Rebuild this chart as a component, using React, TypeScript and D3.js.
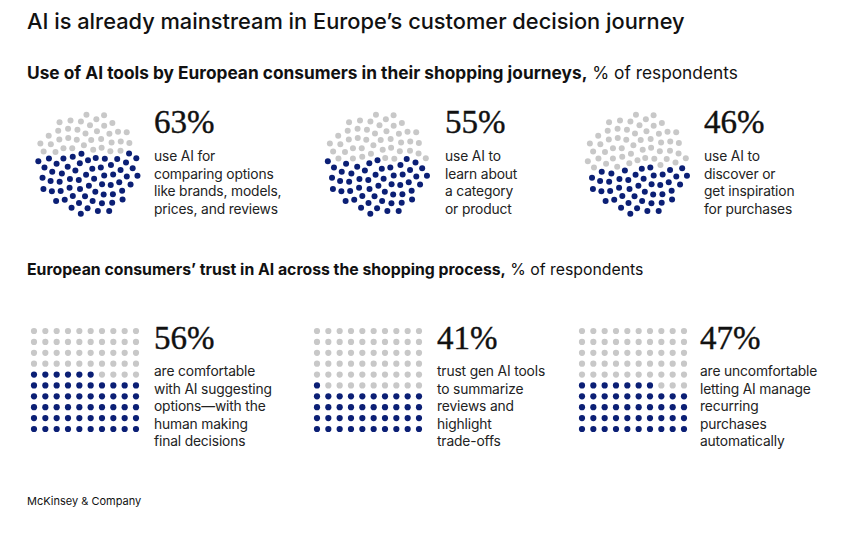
import * as d3 from 'd3';

const NAVY = '#0b1f75';
const GRAY = '#c8c8c8';
const INK = '#222';
const SANS = 'Inter, "Liberation Sans", Arial, sans-serif';
const SERIF = 'Liberation Serif';

// Section 1: circle charts
const circleValues = [63, 55, 46];
const circleLabels = [
  ['use AI for', 'comparing options', 'like brands, models,', 'prices, and reviews'],
  ['use AI to', 'learn about', 'a category', 'or product'],
  ['use AI to', 'discover or', 'get inspiration', 'for purchases'],
];

// Section 2: waffle grids
const gridValues = [56, 41, 47];
const gridLabels = [
  ['are comfortable', 'with AI suggesting', 'options\u2014with the', 'human making', 'final decisions'],
  ['trust gen AI tools', 'to summarize', 'reviews and', 'highlight', 'trade-offs'],
  ['are uncomfortable', 'letting AI manage', 'recurring', 'purchases', 'automatically'],
];

const TOTAL = 100;

// panel placement
const circleCenters = [88, 377.5, 637.5];
const circleCy = 164;
const circleTextX = [154, 445, 704];
const gridLeft = [34, 317, 582];
const gridTop = 331;
const gridTextX = [154, 437, 700];

const GOLDEN = Math.PI * (3 - Math.sqrt(5));

function sunflowerDots(value: number) {
  const rScale = d3.scaleSqrt().domain([0, TOTAL]).range([0, 52]);
  const pts = d3.range(TOTAL).map((i) => {
    const r = rScale(i + 0.5);
    const a = i * GOLDEN - Math.PI / 2;
    return { x: r * Math.cos(a), y: r * Math.sin(a) };
  });
  const sorted = [...pts].sort((a, b) => d3.descending(a.y, b.y));
  return sorted.map((p, k) => ({ ...p, on: k < value }));
}

function gridDots(value: number) {
  const x = d3.scalePoint<number>().domain(d3.range(10)).range([0, 102]);
  const y = d3.scalePoint<number>().domain(d3.range(10)).range([0, 98]);
  const dots: { x: number; y: number; on: boolean }[] = [];
  for (let r = 0; r < 10; r++) {
    for (let c = 0; c < 10; c++) {
      const idx = (9 - r) * 10 + c;
      dots.push({ x: x(c)!, y: y(r)!, on: idx < value });
    }
  }
  return dots;
}

function Label({ x, pctY, lineY, value, lines }: { x: number; pctY: number; lineY: number; value: number; lines: string[] }) {
  return (
    <g>
      <text x={x} y={pctY} fontFamily={SERIF} fontSize={33} fill="#111" stroke="#111" strokeWidth={0.4}>
        {`${value}%`}
      </text>
      {lines.map((l, i) => (
        <text key={i} x={x} y={lineY + i * 17.6} fontFamily={SANS} fontSize={13.8} letterSpacing={-0.15} fill={INK}>
          {l}
        </text>
      ))}
    </g>
  );
}

export default function App() {
  return (
    <svg
      width={859}
      height={533}
      style={{ position: 'absolute', left: 0, top: 0, background: '#fff' }}
    >
      <text x={27} y={29} fontFamily={SANS} fontSize={21.8} fontWeight={500} fill="#111">
        AI is already mainstream in Europe’s customer decision journey
      </text>
      <text x={27} y={79} fontFamily={SANS} fontSize={17.3} fill="#111">
        <tspan fontWeight={700}>Use of AI tools by European consumers in their shopping journeys,</tspan>
        <tspan fontWeight={400}> % of respondents</tspan>
      </text>

      {circleValues.map((v, i) => (
        <g key={i}>
          <g transform={`translate(${circleCenters[i]},${circleCy})`}>
            {sunflowerDots(v).map((d, k) => (
              <circle key={k} cx={d.x} cy={d.y} r={3} fill={d.on ? NAVY : GRAY} />
            ))}
          </g>
          <Label x={circleTextX[i]} pctY={133} lineY={161} value={v} lines={circleLabels[i]} />
        </g>
      ))}

      <text x={27} y={275} fontFamily={SANS} fontSize={15.8} fill="#111">
        <tspan fontWeight={700}>European consumers’ trust in AI across the shopping process,</tspan>
        <tspan fontWeight={400}> % of respondents</tspan>
      </text>

      {gridValues.map((v, i) => (
        <g key={i}>
          <g transform={`translate(${gridLeft[i]},${gridTop})`}>
            {gridDots(v).map((d, k) => (
              <circle key={k} cx={d.x} cy={d.y} r={3.1} fill={d.on ? NAVY : GRAY} />
            ))}
          </g>
          <Label x={gridTextX[i]} pctY={349} lineY={376} value={v} lines={gridLabels[i]} />
        </g>
      ))}

      <text x={27} y={505} fontFamily={SANS} fontSize={11} fill="#111">
        McKinsey &amp; Company
      </text>
    </svg>
  );
}
